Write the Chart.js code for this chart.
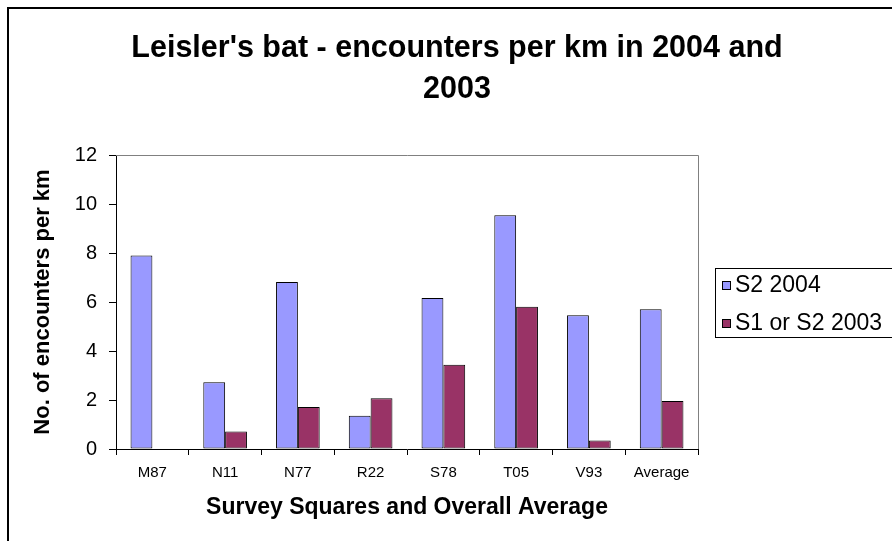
<!DOCTYPE html>
<html>
<head>
<meta charset="utf-8">
<script src="https://cdn.jsdelivr.net/npm/chart.js@4/dist/chart.umd.min.js"></script>
<style>
html,body{margin:0;padding:0;background:#fff;}
#wrap{width:892px;height:541px;position:relative;}
</style>
</head>
<body>
<div id="wrap"><canvas id="c" width="892" height="541"></canvas></div>
<script>
const categories = ['M87', 'N11', 'N77', 'R22', 'S78', 'T05', 'V93', 'Average'];
const s2004 = [7.9, 2.72, 6.82, 1.36, 6.16, 9.54, 5.46, 5.70];
const s2003 = [null, 0.71, 1.71, 2.07, 3.44, 5.81, 0.35, 1.96];
const seriesNames = ['S2 2004', 'S1 or S2 2003'];
const titleLines = ["Leisler's bat - encounters per km in 2004 and", '2003'];
const yTitle = 'No. of encounters per km';
const xTitle = 'Survey Squares and Overall Average';

const FONT = '"Liberation Sans", Arial, Helvetica, sans-serif';
Chart.defaults.font.family = FONT;
Chart.defaults.color = '#000';

const framePlugin = {
  id: 'frame',
  beforeDraw(chart) {
    const ctx = chart.ctx;
    ctx.save();
    ctx.fillStyle = '#fff';
    ctx.fillRect(0, 0, chart.width, chart.height);
    ctx.strokeStyle = '#000';
    ctx.lineWidth = 2;
    ctx.strokeRect(8, 8, chart.width + 20, chart.height + 20);
    ctx.restore();
  },
  afterDraw(chart) {
    const ctx = chart.ctx;
    const a = chart.chartArea;
    ctx.save();
    // plot area top / right border
    ctx.strokeStyle = '#808080';
    ctx.lineWidth = 1;
    ctx.beginPath();
    ctx.moveTo(a.left, a.top + 0.5);
    ctx.lineTo(Math.round(a.right) + 0.5, a.top + 0.5);
    ctx.lineTo(Math.round(a.right) + 0.5, a.bottom);
    ctx.stroke();

    // title
    ctx.fillStyle = '#000';
    ctx.font = 'bold 30.5px ' + FONT;
    ctx.textAlign = 'center';
    ctx.textBaseline = 'alphabetic';
    ctx.fillText(titleLines[0], 457, 57);
    ctx.fillText(titleLines[1], 457, 98);

    // legend
    ctx.strokeStyle = '#000';
    ctx.lineWidth = 1;
    ctx.strokeRect(715.5, 268.5, 200, 69);
    ctx.font = '23px ' + FONT;
    ctx.textAlign = 'left';
    const rows = [285, 323];
    chart.data.datasets.forEach((ds, i) => {
      const cy = rows[i];
      ctx.fillStyle = ds.backgroundColor;
      ctx.fillRect(722, cy - 4, 9, 9);
      ctx.strokeRect(722.5, cy - 3.5, 8, 8);
      ctx.fillStyle = '#000';
      ctx.textBaseline = 'middle';
      ctx.fillText(ds.label, 735, cy + 1);
    });
    ctx.restore();
  }
};

new Chart(document.getElementById('c'), {
  type: 'bar',
  data: {
    labels: categories,
    datasets: [
      { label: seriesNames[0], data: s2004, backgroundColor: '#9999FF', borderColor: '#000', borderWidth: 1,
        borderSkipped: false, categoryPercentage: 0.6, barPercentage: 1.0 },
      { label: seriesNames[1], data: s2003, backgroundColor: '#993366', borderColor: '#000', borderWidth: 1,
        borderSkipped: false, categoryPercentage: 0.6, barPercentage: 1.0 }
    ]
  },
  options: {
    responsive: false,
    animation: false,
    devicePixelRatio: 1,
    layout: { padding: { left: 0, right: 194, top: 155, bottom: 0 } },
    plugins: {
      legend: { display: false },
      title: { display: false },
      tooltip: { enabled: false }
    },
    scales: {
      x: {
        afterFit(scale) { scale.height = 92; },
        grid: { display: true, drawOnChartArea: false, offset: true, tickLength: 6, color: '#000' },
        border: { display: true, color: '#000', width: 1 },
        ticks: { font: { size: 15 }, padding: 9, color: '#000', maxRotation: 0, autoSkip: false },
        title: { display: true, text: xTitle, font: { size: 23, weight: 'bold' }, padding: { top: 0, bottom: 20 }, color: '#000' }
      },
      y: {
        min: 0, max: 12,
        afterFit(scale) { scale.width = 116; },
        grid: { display: true, drawOnChartArea: false, tickLength: 7, color: '#000' },
        border: { display: true, color: '#000', width: 1 },
        ticks: { stepSize: 2, font: { size: 20 }, padding: 12, color: '#000' },
        title: { display: true, text: yTitle, font: { size: 22, weight: 'bold' }, padding: { top: 30, bottom: 0 }, color: '#000' }
      }
    }
  },
  plugins: [framePlugin]
});
</script>
</body>
</html>
